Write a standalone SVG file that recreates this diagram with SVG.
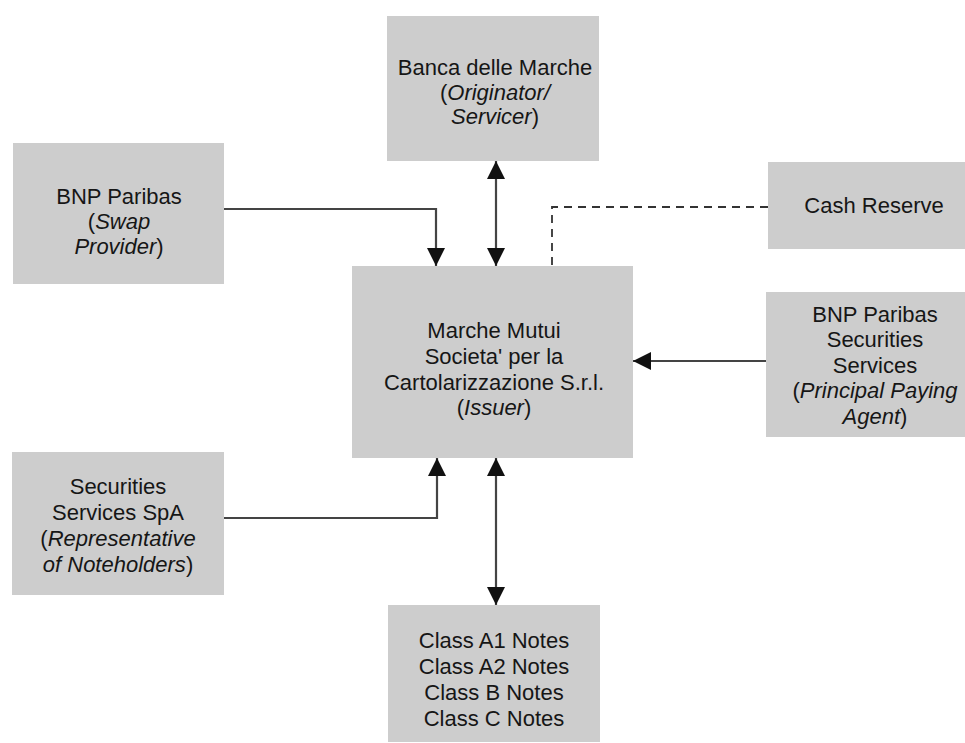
<svg xmlns="http://www.w3.org/2000/svg" width="965" height="743" viewBox="0 0 965 743">
<style>
.box{fill:#cdcdcd;}
.t{font-family:"Liberation Sans",Arial,Helvetica,sans-serif;font-size:22px;fill:#161616;text-anchor:middle;}
.i{font-style:italic;}
.c{fill:none;stroke:#444;stroke-width:2.2;}
.d{fill:none;stroke:#333;stroke-width:1.8;stroke-dasharray:8 6;}
</style>
<defs>
<marker id="ah" viewBox="0 0 16 16" markerUnits="userSpaceOnUse" markerWidth="18" markerHeight="18" refX="16" refY="8" orient="auto-start-reverse">
<path d="M0,0 L16,8 L0,16 z" fill="#111"/>
</marker>
</defs>
<rect width="965" height="743" fill="#fff"/>

<g id="connectors">
<line class="c" x1="496" y1="161" x2="496" y2="266" marker-start="url(#ah)" marker-end="url(#ah)"/>
<polyline class="c" points="224,209 436,209 436,266" marker-end="url(#ah)"/>
<polyline class="d" points="768,207 552,207 552,266"/>
<line class="c" x1="766" y1="361" x2="633" y2="361" marker-end="url(#ah)"/>
<polyline class="c" points="224,518 437,518 437,458" marker-end="url(#ah)"/>
<line class="c" x1="496" y1="458" x2="496" y2="605" marker-start="url(#ah)" marker-end="url(#ah)"/>
</g>

<g id="banca">
<rect class="box" x="387" y="16" width="212" height="145"/>
<text class="t" x="495" y="75">Banca delle Marche</text>
<text class="t" x="495" y="100">(<tspan class="i">Originator/</tspan></text>
<text class="t" x="495" y="124"><tspan class="i">Servicer</tspan>)</text>
</g>

<g id="swap">
<rect class="box" x="13" y="143" width="211" height="141"/>
<text class="t" x="119" y="204">BNP Paribas</text>
<text class="t" x="119" y="229">(<tspan class="i">Swap</tspan></text>
<text class="t" x="119" y="254"><tspan class="i">Provider</tspan>)</text>
</g>

<g id="cash">
<rect class="box" x="768" y="162" width="212" height="87"/>
<text class="t" x="874" y="213">Cash Reserve</text>
</g>

<g id="issuer">
<rect class="box" x="352" y="266" width="281" height="192"/>
<text class="t" x="494" y="338">Marche Mutui</text>
<text class="t" x="494" y="364">Societa' per la</text>
<text class="t" x="494" y="390">Cartolarizzazione S.r.l.</text>
<text class="t" x="494" y="415">(<tspan class="i">Issuer</tspan>)</text>
</g>

<g id="bnpss">
<rect class="box" x="766" y="292" width="214" height="145"/>
<text class="t" x="875" y="322">BNP Paribas</text>
<text class="t" x="875" y="347">Securities</text>
<text class="t" x="875" y="373">Services</text>
<text class="t" x="875" y="398">(<tspan class="i">Principal Paying</tspan></text>
<text class="t" x="875" y="424"><tspan class="i">Agent</tspan>)</text>
</g>

<g id="spa">
<rect class="box" x="12" y="452" width="212" height="143"/>
<text class="t" x="118" y="494">Securities</text>
<text class="t" x="118" y="520">Services SpA</text>
<text class="t" x="118" y="546">(<tspan class="i">Representative</tspan></text>
<text class="t" x="118" y="572"><tspan class="i">of Noteholders</tspan>)</text>
</g>

<g id="notes">
<rect class="box" x="388" y="605" width="212" height="137"/>
<text class="t" x="494" y="648">Class A1 Notes</text>
<text class="t" x="494" y="674">Class A2 Notes</text>
<text class="t" x="494" y="700">Class B Notes</text>
<text class="t" x="494" y="726">Class C Notes</text>
</g>
</svg>
